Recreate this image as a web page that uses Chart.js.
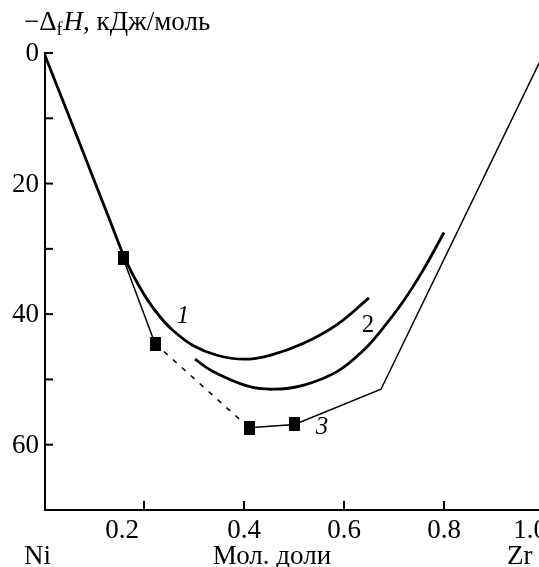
<!DOCTYPE html>
<html>
<head>
<meta charset="utf-8">
<script src="https://cdn.jsdelivr.net/npm/chart.js@4"></script>
<style>
  html, body { margin: 0; padding: 0; background: #fff; }
  #wrap { width: 539px; height: 567px; overflow: hidden; position: relative; }
  #chart { display: block; }
</style>
</head>
<body>
<div id="wrap"><canvas id="chart" width="560" height="567"></canvas></div>
<script>
/* ── Data ─────────────────────────────────────────────────────── */
const curve1X = [0, 0.066, 0.132, 0.158, 0.178, 0.206, 0.232, 0.258, 0.298, 0.346, 0.400, 0.452, 0.518, 0.586, 0.650];
const curve1Y = [0, 12.8, 25.7, 30.8, 34.0, 37.7, 40.4, 42.5, 44.8, 46.3, 46.9, 46.3, 44.5, 41.6, 37.5];

const curve2X = [0.302, 0.338, 0.406, 0.458, 0.518, 0.586, 0.638, 0.672, 0.718, 0.758, 0.800];
const curve2Y = [46.9, 48.8, 51.0, 51.5, 50.9, 48.8, 45.6, 42.7, 38.1, 33.3, 27.5];

const curve3X = [0.158, 0.222, 0.41, 0.501, 0.674, 1.0];
const curve3Y = [31.4, 44.5, 57.4, 56.9, 51.5, 0];
const curve3Marked = [true, true, true, true, false, false];

const xTicks = [0.2, 0.4, 0.6, 0.8, 1.0];
const xTickLabels = ['0.2', '0.4', '0.6', '0.8', '1.0'];
const yTicks = [0, 10, 20, 30, 40, 50, 60];
const yTickLabels = ['0', '', '20', '', '40', '', '60'];

const curveLabels = ['1', '2', '3'];
const curveLabelX = [0.278, 0.648, 0.556];
const curveLabelY = [40.3, 41.8, 57.3];

const SERIF = "'Liberation Serif', 'DejaVu Serif', serif";
const FONT = '27px ' + SERIF;

/* ── Helpers ──────────────────────────────────────────────────── */
const toPts = (xs, ys) => xs.map((x, i) => ({ x, y: ys[i] }));

// filled rectangle marker (a little taller than wide, as printed)
const marker = document.createElement('canvas');
marker.width = 11; marker.height = 14;
{
  const m = marker.getContext('2d');
  m.fillStyle = '#000';
  m.fillRect(0, 0, 11, 14);
}

// the printed x labels sit a bit off their ticks at the ends
const xLabelShift = [-22, 0, 0, 0, -14];

/* ── Axes, ticks and text drawn on top ────────────────────────── */
const axesPlugin = {
  id: 'axes',
  afterDraw(chart) {
    const { ctx, chartArea: a, scales: { x, y } } = chart;
    ctx.save();
    ctx.strokeStyle = '#000';
    ctx.fillStyle = '#000';
    ctx.lineWidth = 2;

    // axis lines
    ctx.beginPath();
    ctx.moveTo(a.left + 1, a.top);
    ctx.lineTo(a.left + 1, a.bottom);
    ctx.lineTo(a.right + 20, a.bottom);
    ctx.stroke();

    // y ticks (pointing inward)
    ctx.font = FONT;
    ctx.textAlign = 'right';
    ctx.textBaseline = 'middle';
    yTicks.forEach((v, i) => {
      const py = y.getPixelForValue(v);
      ctx.beginPath();
      ctx.moveTo(a.left, py);
      ctx.lineTo(a.left + 9, py);
      ctx.stroke();
      if (yTickLabels[i]) ctx.fillText(yTickLabels[i], a.left - 5, py + 1);
    });

    // x ticks
    ctx.textAlign = 'center';
    ctx.textBaseline = 'alphabetic';
    xTicks.forEach((v, i) => {
      const px = x.getPixelForValue(v);
      ctx.beginPath();
      ctx.moveTo(px, a.bottom);
      ctx.lineTo(px, a.bottom - 9);
      ctx.stroke();
      ctx.fillText(xTickLabels[i], px + xLabelShift[i], a.bottom + 28);
    });

    // axis captions
    ctx.textAlign = 'left';
    ctx.fillText('Ni', 24, 564);
    ctx.textAlign = 'center';
    ctx.fillText('Мол. доли', 272, 564);
    ctx.textAlign = 'left';
    ctx.fillText('Zr', 507, 564);

    // y title: −ΔfH, кДж/моль
    let tx = 24;
    const ty = 30;
    ctx.font = FONT;
    ctx.fillText('−Δ', tx, ty);
    tx += ctx.measureText('−Δ').width;
    ctx.font = '18px ' + SERIF;
    ctx.fillText('f', tx, ty + 5);
    tx += ctx.measureText('f').width + 1;
    ctx.font = 'italic ' + FONT;
    ctx.fillText('H', tx, ty);
    tx += ctx.measureText('H').width;
    ctx.font = FONT;
    ctx.fillText(', кДж/моль', tx, ty);

    // curve numbers
    ctx.textAlign = 'center';
    ctx.textBaseline = 'middle';
    curveLabels.forEach((t, i) => {
      ctx.font = (i === 1 ? '' : 'italic ') + '25px ' + SERIF;
      ctx.fillText(t, x.getPixelForValue(curveLabelX[i]), y.getPixelForValue(curveLabelY[i]));
    });
    ctx.restore();
  }
};

/* ── Chart ────────────────────────────────────────────────────── */
new Chart(document.getElementById('chart'), {
  type: 'line',
  data: {
    datasets: [
      {
        data: toPts(curve1X, curve1Y),
        borderColor: '#000',
        borderWidth: 2.8,
        pointRadius: 0,
        tension: 0.4,
      },
      {
        data: toPts(curve2X, curve2Y),
        borderColor: '#000',
        borderWidth: 2.8,
        pointRadius: 0,
        tension: 0.4,
      },
      {
        data: toPts(curve3X, curve3Y),
        borderColor: '#000',
        borderWidth: 1.5,
        tension: 0,
        pointStyle: marker,
        pointRadius: curve3Marked.map(m => (m ? 6 : 0)),
        segment: {
          borderDash: (c) => (c.p0DataIndex === 1 ? [5, 7] : undefined),
        },
      },
    ],
  },
  options: {
    responsive: false,
    animation: false,
    layout: { padding: { left: 44, right: 16, top: 53, bottom: 57 } },
    plugins: { legend: { display: false }, tooltip: { enabled: false } },
    scales: {
      x: { type: 'linear', min: 0, max: 1, display: false },
      y: { type: 'linear', min: 0, max: 70, reverse: true, display: false },
    },
  },
  plugins: [axesPlugin],
});
</script>
</body>
</html>
